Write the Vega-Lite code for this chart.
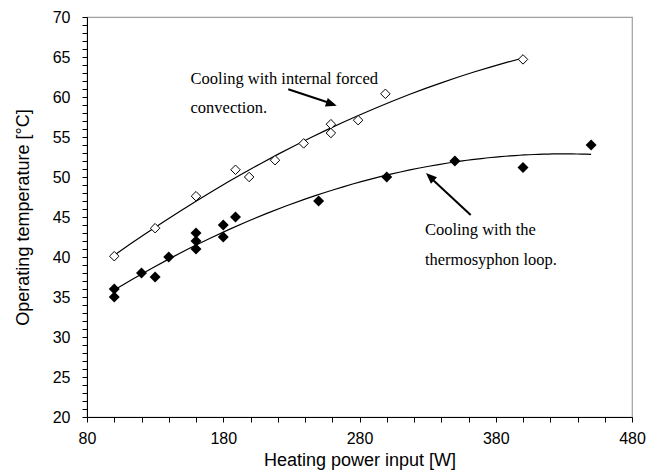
{
  "$schema": "https://vega.github.io/schema/vega-lite/v6.json",
  "autosize": "none",
  "width": 545,
  "height": 400,
  "padding": {"left": 87, "top": 17, "right": 29, "bottom": 59},
  "background": "white",
  "view": {"stroke": "#a0a0a0", "strokeWidth": 1.2},
  "config": {
    "axis": {"domainColor": "black", "tickColor": "black", "labelColor": "black", "titleColor": "black", "labelFont": "Liberation Sans", "titleFont": "Liberation Sans", "titleFontWeight": "normal", "grid": false}
  },
  "datasets": {
    "pts": [
      {"power": 100, "temp": 40.1, "series": "forced"},
      {"power": 130, "temp": 43.6, "series": "forced"},
      {"power": 160, "temp": 47.6, "series": "forced"},
      {"power": 189, "temp": 50.9, "series": "forced"},
      {"power": 199, "temp": 50.0, "series": "forced"},
      {"power": 218, "temp": 52.1, "series": "forced"},
      {"power": 239, "temp": 54.2, "series": "forced"},
      {"power": 259, "temp": 56.6, "series": "forced"},
      {"power": 259, "temp": 55.5, "series": "forced"},
      {"power": 279, "temp": 57.1, "series": "forced"},
      {"power": 299, "temp": 60.4, "series": "forced"},
      {"power": 400, "temp": 64.7, "series": "forced"},
      {"power": 100, "temp": 36.0, "series": "thermo"},
      {"power": 100, "temp": 35.0, "series": "thermo"},
      {"power": 120, "temp": 38.0, "series": "thermo"},
      {"power": 130, "temp": 37.5, "series": "thermo"},
      {"power": 140, "temp": 40.0, "series": "thermo"},
      {"power": 160, "temp": 43.0, "series": "thermo"},
      {"power": 160, "temp": 42.0, "series": "thermo"},
      {"power": 160, "temp": 41.0, "series": "thermo"},
      {"power": 180, "temp": 44.0, "series": "thermo"},
      {"power": 180, "temp": 42.5, "series": "thermo"},
      {"power": 189, "temp": 45.0, "series": "thermo"},
      {"power": 250, "temp": 47.0, "series": "thermo"},
      {"power": 300, "temp": 50.0, "series": "thermo"},
      {"power": 350, "temp": 52.0, "series": "thermo"},
      {"power": 400, "temp": 51.2, "series": "thermo"},
      {"power": 450, "temp": 54.0, "series": "thermo"}
    ],
    "labels": [
      {"x": 156, "y": 61.6, "text": "Cooling with internal forced"},
      {"x": 156, "y": 58.0, "text": "convection."},
      {"x": 328, "y": 42.75, "text": "Cooling with the"},
      {"x": 328, "y": 39.0, "text": "thermosyphon loop."}
    ],
    "arrows": [
      {"id": "a", "x": 227.7, "y": 60.96, "x2": 261, "y2": 59.1},
      {"id": "b", "x": 361.6, "y": 45.25, "x2": 331, "y2": 50.1}
    ],
    "heads": [
      {"id": "a", "x": 263.3, "y": 58.9},
      {"id": "b", "x": 328.8, "y": 50.5}
    ]
  },
  "layer": [
    {
      "data": {"name": "pts"},
      "transform": [
        {"filter": "datum.series === 'forced'"},
        {"regression": "temp", "on": "power", "method": "poly", "order": 2, "extent": [100, 400]}
      ],
      "mark": {"type": "line", "color": "black", "strokeWidth": 1.2},
      "encoding": {
        "x": {"field": "power", "type": "quantitative", "scale": {"domain": [80, 480], "nice": false, "zero": false},
          "axis": {"orient": "bottom", "values": [80, 100, 120, 140, 160, 180, 200, 220, 240, 260, 280, 300, 320, 340, 360, 380, 400, 420, 440, 460, 480],
            "tickCount": 100, "format": "d",
            "labelOverlap": false, "labelBound": false, "labelFlush": false,
            "labelExpr": "(datum.value - 80) % 100 === 0 ? datum.label : ''",
            "tickSize": 5,
            "labelPadding": 8, "labelFontSize": 16, "title": "Heating power input [W]", "titleFontSize": 18, "titlePadding": 5}},
        "y": {"field": "temp", "type": "quantitative", "scale": {"domain": [20, 70], "nice": false, "zero": false},
          "axis": {"orient": "left", "values": [20, 21, 22, 23, 24, 25, 26, 27, 28, 29, 30, 31, 32, 33, 34, 35, 36, 37, 38, 39, 40, 41, 42, 43, 44, 45, 46, 47, 48, 49, 50, 51, 52, 53, 54, 55, 56, 57, 58, 59, 60, 61, 62, 63, 64, 65, 66, 67, 68, 69, 70],
            "tickCount": 200, "format": "d",
            "labelOverlap": false, "labelBound": false, "labelFlush": false,
            "labelExpr": "datum.value % 5 === 0 ? datum.label : ''",
            "tickSize": 5,
            "labelPadding": 12, "labelFontSize": 16, "title": "Operating temperature [°C]", "titleFontSize": 18, "titlePadding": 20}}
      }
    },
    {
      "data": {"name": "pts"},
      "transform": [
        {"filter": "datum.series === 'thermo'"},
        {"regression": "temp", "on": "power", "method": "poly", "order": 2, "extent": [100, 450]}
      ],
      "mark": {"type": "line", "color": "black", "strokeWidth": 1.2},
      "encoding": {
        "x": {"field": "power", "type": "quantitative"},
        "y": {"field": "temp", "type": "quantitative"}
      }
    },
    {
      "data": {"name": "pts"},
      "transform": [{"filter": "datum.series === 'forced'"}],
      "mark": {"type": "point", "shape": "diamond", "filled": true, "fill": "white", "stroke": "black", "strokeWidth": 1, "size": 90, "opacity": 1},
      "encoding": {
        "x": {"field": "power", "type": "quantitative"},
        "y": {"field": "temp", "type": "quantitative"}
      }
    },
    {
      "data": {"name": "pts"},
      "transform": [{"filter": "datum.series === 'thermo'"}],
      "mark": {"type": "point", "shape": "diamond", "filled": true, "fill": "black", "size": 120, "opacity": 1},
      "encoding": {
        "x": {"field": "power", "type": "quantitative"},
        "y": {"field": "temp", "type": "quantitative"}
      }
    },
    {
      "data": {"name": "labels"},
      "mark": {"type": "text", "align": "left", "baseline": "alphabetic", "font": "Liberation Serif", "fontSize": 16.5, "color": "black"},
      "encoding": {
        "x": {"field": "x", "type": "quantitative"},
        "y": {"field": "y", "type": "quantitative"},
        "text": {"field": "text"}
      }
    },
    {
      "data": {"name": "arrows"},
      "mark": {"type": "rule", "color": "black", "strokeWidth": 2},
      "encoding": {
        "x": {"field": "x", "type": "quantitative"},
        "y": {"field": "y", "type": "quantitative"},
        "x2": {"field": "x2"},
        "y2": {"field": "y2"}
      }
    },
    {
      "data": {"name": "heads"},
      "transform": [{"filter": "datum.id === 'a'"}],
      "mark": {"type": "point", "shape": "M0,0L-0.4,1L0.4,1Z", "filled": true, "fill": "black", "strokeWidth": 0, "size": 484, "angle": 109, "opacity": 1},
      "encoding": {
        "x": {"field": "x", "type": "quantitative"},
        "y": {"field": "y", "type": "quantitative"}
      }
    },
    {
      "data": {"name": "heads"},
      "transform": [{"filter": "datum.id === 'b'"}],
      "mark": {"type": "point", "shape": "M0,0L-0.4,1L0.4,1Z", "filled": true, "fill": "black", "strokeWidth": 0, "size": 484, "angle": 313.4, "opacity": 1},
      "encoding": {
        "x": {"field": "x", "type": "quantitative"},
        "y": {"field": "y", "type": "quantitative"}
      }
    }
  ]
}
